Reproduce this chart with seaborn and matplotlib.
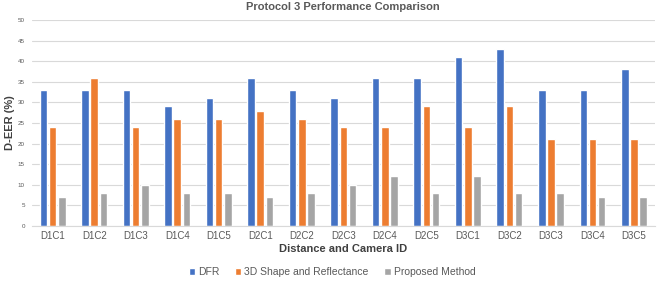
import pandas as pd
import seaborn as sns
import matplotlib.pyplot as plt

# values
camera_ids = ["D1C1", "D1C2", "D1C3", "D1C4", "D1C5",
              "D2C1", "D2C2", "D2C3", "D2C4", "D2C5",
              "D3C1", "D3C2", "D3C3", "D3C4", "D3C5"]
dfr = [33, 33, 33, 29, 31, 36, 33, 31, 36, 36, 41, 43, 33, 33, 38]
shape_refl = [24, 36, 24, 26, 26, 28, 26, 24, 24, 29, 24, 29, 21, 21, 21]
proposed = [7, 8, 10, 8, 8, 7, 8, 10, 12, 8, 12, 8, 8, 7, 7]
methods = ["DFR", "3D Shape and Reflectance", "Proposed Method"]
colors = ["#4472C4", "#ED7D31", "#A5A5A5"]

df = pd.DataFrame({"camera": camera_ids, methods[0]: dfr,
                   methods[1]: shape_refl, methods[2]: proposed})
long_df = df.melt(id_vars="camera", var_name="method", value_name="eer")

sns.set_style("white")
plt.rcParams["font.family"] = ["Liberation Sans", "DejaVu Sans"]

fig = plt.figure(figsize=(6.64, 2.82), dpi=100)
ax = fig.add_axes([0.048, 0.199, 0.938, 0.730])

sns.barplot(data=long_df, x="camera", y="eer", hue="method",
            hue_order=methods, palette=colors, width=0.66, gap=0.18,
            saturation=1, ax=ax)

ax.set_ylim(0, 50)
ax.set_yticks(range(0, 51, 5))
ax.set_xlim(-0.5, len(camera_ids) - 0.5)
ax.yaxis.grid(True, color="#D9D9D9", linewidth=0.8)
ax.set_axisbelow(True)
for s in ["top", "right", "left"]:
    ax.spines[s].set_visible(False)
ax.spines["bottom"].set_color("#D9D9D9")
ax.tick_params(axis="y", labelsize=4.5, colors="#595959", length=0, pad=5)
ax.tick_params(axis="x", labelsize=7, colors="#595959", length=0, pad=4)

ax.set_title("Protocol 3 Performance Comparison", fontsize=8,
             fontweight="bold", color="#595959", pad=7)
ax.set_ylabel("D-EER (%)", fontsize=8, fontweight="bold", color="#404040")
ax.yaxis.set_label_coords(-0.027, 0.5)
ax.set_xlabel("Distance and Camera ID", fontsize=8, fontweight="bold",
              color="#404040", labelpad=2)

handles, labels = ax.get_legend_handles_labels()
ax.get_legend().remove()
fig.legend(handles, labels, loc="center", bbox_to_anchor=(0.5, 0.035), ncol=3,
           frameon=False, fontsize=7.5, handlelength=0.6, handleheight=0.6,
           handletextpad=0.3, columnspacing=1.5, labelcolor="#595959")

fig.savefig("out.png", dpi=100)
